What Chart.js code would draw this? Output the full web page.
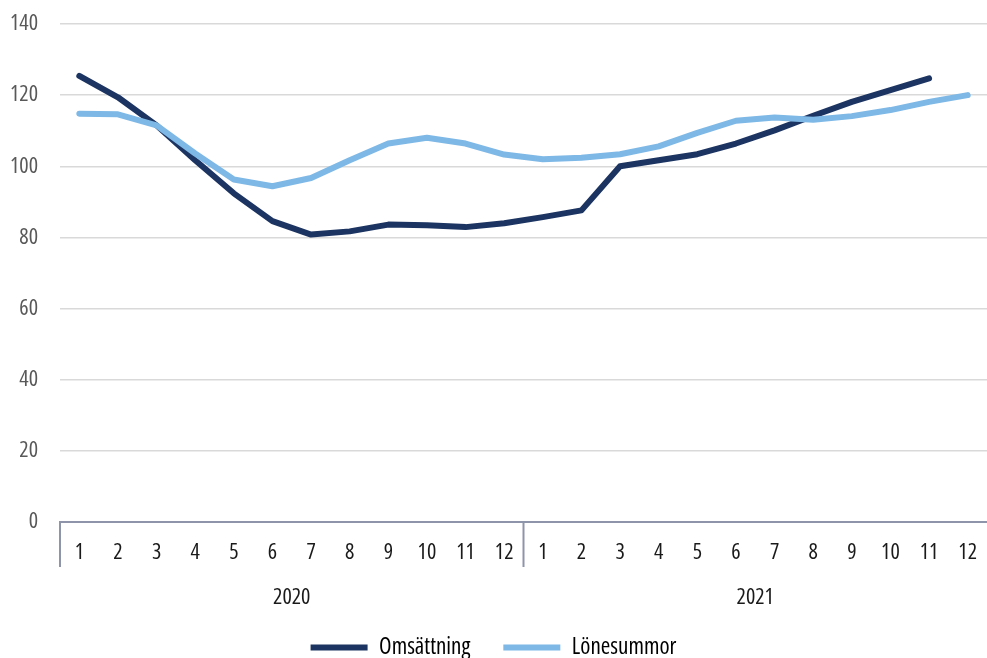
<!DOCTYPE html>
<html>
<head>
<meta charset="utf-8">
<script src="https://cdn.jsdelivr.net/npm/chart.js@4"></script>
<style>
  html, body { margin: 0; padding: 0; background: #fff; }
  #wrap { width: 987px; height: 658px; }
</style>
</head>
<body>
<div id="wrap"><canvas id="chart" width="987" height="658"></canvas></div>
<script>
// data
const years = ['2020', '2021'];
const months = ['1','2','3','4','5','6','7','8','9','10','11','12'];
const omsattning = [125.4, 119.4, 111.5, 101.7, 92.4, 84.6, 80.8, 81.7, 83.6, 83.4, 82.9, 84.0,
                    85.7, 87.6, 100.0, 101.7, 103.4, 106.4, 110.1, 114.2, 118.1, 121.4, 124.7, null];
const lonesummor = [114.8, 114.6, 111.5, 103.6, 96.3, 94.4, 96.7, 101.7, 106.4, 108.0, 106.4, 103.3,
                    102.0, 102.4, 103.4, 105.6, 109.4, 112.8, 113.7, 113.1, 114.1, 115.8, 118.1, 120.0];

const labels = years.flatMap(() => months);
const FONT = '"Open Sans", sans-serif';
// chart.js has no font-stretch option, so it rides in the weight slot
const STRETCH = 'condensed';

// separators between years + year names under the month ticks
const yearGroups = {
  id: 'yearGroups',
  afterDraw(chart) {
    const x = chart.scales.x;
    const ctx = chart.ctx;
    const n = months.length;
    const bottom = x.top;
    ctx.save();
    ctx.strokeStyle = '#8e95aa';
    ctx.lineWidth = 2;
    years.forEach((yr, g) => {
      const first = g * n;
      const last = first + n - 1;
      const left = g === 0 ? x.left : (x.getPixelForTick(first - 1) + x.getPixelForTick(first)) / 2;
      ctx.beginPath();
      ctx.moveTo(left, bottom);
      ctx.lineTo(left, bottom + 45);
      ctx.stroke();
      const mid = (x.getPixelForTick(first) + x.getPixelForTick(last)) / 2;
      ctx.fillStyle = '#1a1a1a';
      ctx.font = STRETCH + ' 22px ' + FONT;
      ctx.textAlign = 'center';
      ctx.textBaseline = 'middle';
      ctx.fillText(yr, mid, bottom + 76);
    });
    ctx.restore();
  }
};

new Chart(document.getElementById('chart'), {
  type: 'line',
  data: {
    labels: labels,
    datasets: [
      {
        label: 'Omsättning',
        data: omsattning,
        borderColor: '#1c3461',
        backgroundColor: '#1c3461',
        borderWidth: 6,
        pointRadius: 0,
        tension: 0,
        borderCapStyle: 'round',
        borderJoinStyle: 'round',
        order: 1
      },
      {
        label: 'Lönesummor',
        data: lonesummor,
        borderColor: '#7db8e6',
        backgroundColor: '#7db8e6',
        borderWidth: 6,
        pointRadius: 0,
        tension: 0,
        borderCapStyle: 'round',
        borderJoinStyle: 'round',
        order: 0
      }
    ]
  },
  options: {
    responsive: false,
    animation: false,
    layout: { padding: { top: 24, right: 0, bottom: -11, left: 0 } },
    scales: {
      x: {
        offset: true,
        // tick padding also pads the chart area, so the gap comes from an invisible tick length
        grid: { display: false, drawTicks: true, tickLength: 18 },
        border: { display: true, color: '#8e95aa', width: 2 },
        ticks: { color: '#1a1a1a', font: { family: FONT, weight: STRETCH, size: 22 }, padding: 0, maxRotation: 0, autoSkip: false },
        afterFit(scale) { scale.height = 81; }
      },
      y: {
        min: 0,
        max: 140,
        ticks: { stepSize: 20, color: '#595959', font: { family: FONT, weight: STRETCH, size: 22 }, padding: 0 },
        grid: { color: '#d9d9d9', lineWidth: 1.5, drawTicks: true, tickLength: 22, tickColor: 'rgba(0,0,0,0)' },
        border: { display: false },
        afterFit(scale) { scale.width = 60; }
      }
    },
    plugins: {
      tooltip: { enabled: false },
      legend: {
        position: 'bottom',
        labels: {
          color: '#1a1a1a',
          font: { family: FONT, weight: STRETCH, size: 23 },
          boxWidth: 57,
          boxHeight: 6,
          useBorderRadius: true,
          borderRadius: 3,
          padding: 33,
          generateLabels(chart) {
            return chart.data.datasets.map((ds, i) => ({
              text: ds.label,
              fillStyle: ds.borderColor,
              strokeStyle: ds.borderColor,
              lineWidth: 0,
              datasetIndex: i,
              hidden: false
            }));
          }
        }
      }
    }
  },
  plugins: [yearGroups]
});
</script>
</body>
</html>
